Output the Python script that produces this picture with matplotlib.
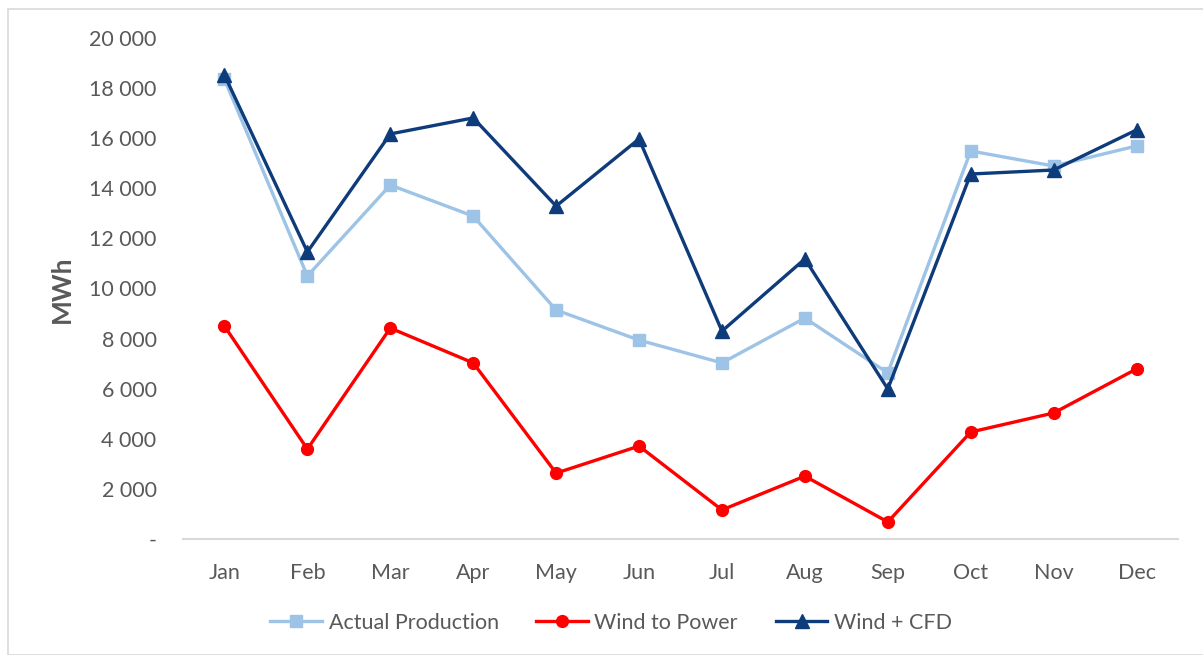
import matplotlib
matplotlib.use("Agg")
import matplotlib.pyplot as plt
from matplotlib.patches import Rectangle

months = ["Jan", "Feb", "Mar", "Apr", "May", "Jun", "Jul", "Aug", "Sep", "Oct", "Nov", "Dec"]
actual_production = [18350, 10500, 14130, 12890, 9140, 7940, 7030, 8820, 6630, 15490, 14890, 15690]
wind_to_power = [8500, 3590, 8420, 7030, 2630, 3710, 1160, 2510, 680, 4270, 5030, 6790]
wind_cfd = [18520, 11460, 16170, 16810, 13290, 15970, 8300, 11180, 5990, 14570, 14730, 16330]
yticks = [0, 2000, 4000, 6000, 8000, 10000, 12000, 14000, 16000, 18000, 20000]
ytick_labels = ["-", "2 000", "4 000", "6 000", "8 000", "10 000", "12 000", "14 000", "16 000", "18 000", "20 000"]

plt.rcParams['font.family'] = ['Lato', 'DejaVu Sans']
TXT = "#595959"

W, H = 1203, 655
fig = plt.figure(figsize=(W / 100, H / 100), dpi=100)
fig.patches.append(Rectangle((8 / W, 0), 1.2, (H - 9) / H, transform=fig.transFigure,
                             fill=False, edgecolor="#D9D9D9", linewidth=1.2))

ax = fig.add_axes([183 / W, (H - 539) / H, (1178 - 183) / W, (539 - 38) / H])
x = list(range(len(months)))
ax.plot(x, actual_production, color="#9DC3E6", lw=2.4, marker="s", ms=8.5, label="Actual Production")
ax.plot(x, wind_to_power, color="#FF0000", lw=2.4, marker="o", ms=8.5, label="Wind to Power")
ax.plot(x, wind_cfd, color="#0E3B7A", lw=2.4, marker="^", ms=9.5, label="Wind + CFD")

ax.set_xlim(-0.5, len(months) - 0.5)
ax.set_ylim(0, 20000)
ax.set_xticks(x)
ax.set_xticklabels(months, fontsize=15.5, color=TXT)
ax.set_yticks(yticks)
ax.set_yticklabels(ytick_labels, fontsize=15.5, color=TXT)
ax.tick_params(axis="both", length=0)
ax.tick_params(axis="x", pad=17)
ax.tick_params(axis="y", pad=19)
for s in ["top", "right", "left"]:
    ax.spines[s].set_visible(False)
ax.spines["bottom"].set_color("#D9D9D9")
ax.spines["bottom"].set_linewidth(1.5)

fig.text(62 / W, (H - 289) / H, "MWh", rotation=90, fontsize=19, fontweight="bold",
         color=TXT, ha="center", va="center")

leg = fig.legend(loc="center", bbox_to_anchor=(0.508, (H - 623) / H), ncol=3, frameon=False,
                 fontsize=15.5, handlelength=2.4, columnspacing=1.75, handletextpad=0.3)
for t in leg.get_texts():
    t.set_color(TXT)

fig.savefig("out.png", dpi=100)
